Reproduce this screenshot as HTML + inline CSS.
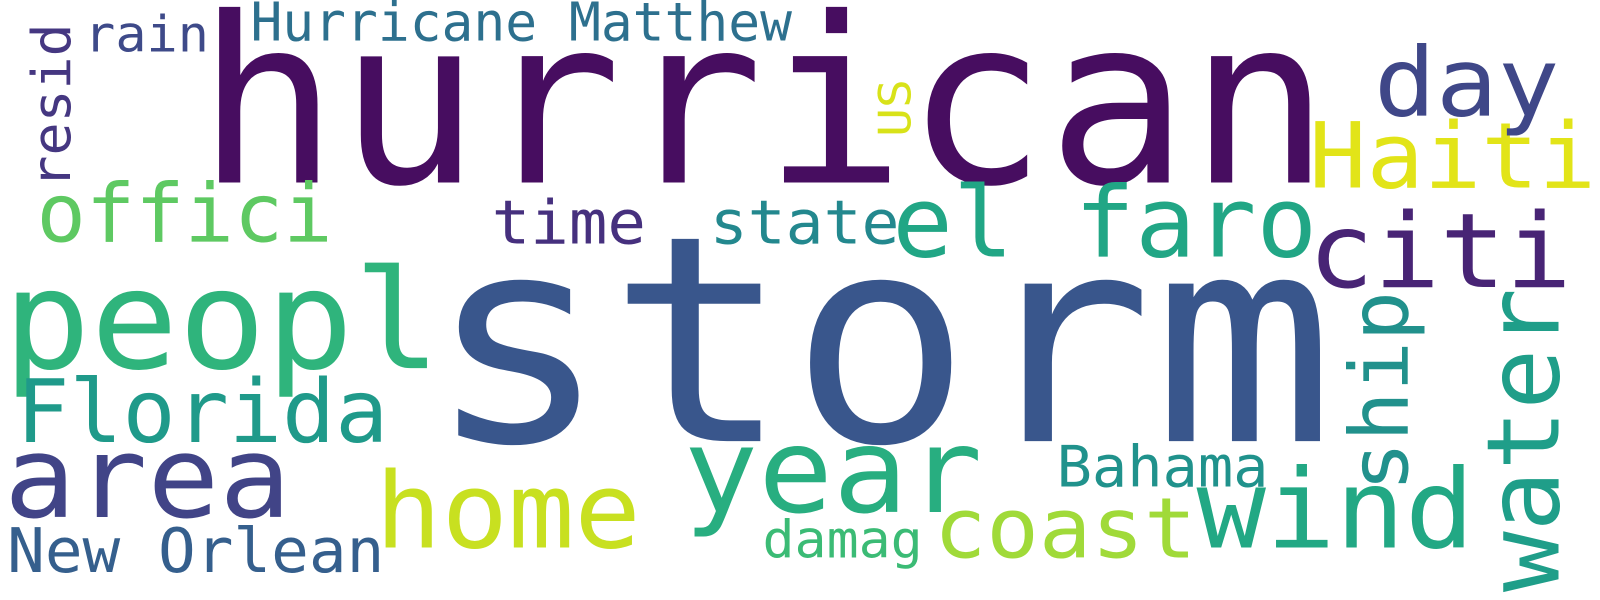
<!DOCTYPE html>
<html><head><meta charset="utf-8"><style>
html,body{margin:0;padding:0;background:#fff;overflow:hidden;width:1600px;height:600px;}
svg{display:block}
text{font-family:"DejaVu Sans Mono","Liberation Mono",monospace;}
</style></head><body>
<svg width="1600" height="600" viewBox="0 0 1600 600">
<rect width="1600" height="600" fill="#fff"/>
<g transform="scale(1.014)">
<text x="194" y="180" font-size="228" fill="#470d60" textLength="1118" lengthAdjust="spacingAndGlyphs">hurrican</text>
<text x="421" y="435" font-size="284" fill="#39568c" textLength="895" lengthAdjust="spacingAndGlyphs">storm</text>
<text x="3" y="363" font-size="136" fill="#2fb47c" textLength="432" lengthAdjust="spacingAndGlyphs">peopl</text>
<text x="880" y="253" font-size="97" fill="#21a685" textLength="419" lengthAdjust="spacingAndGlyphs">el faro</text>
<text x="1290" y="283" font-size="102" fill="#482475" textLength="260" lengthAdjust="spacingAndGlyphs">citi</text>
<text x="1291" y="185" font-size="90" fill="#e2e418" textLength="283" lengthAdjust="spacingAndGlyphs">Haiti</text>
<text x="1355" y="114" font-size="94" fill="#3f4788" textLength="183" lengthAdjust="spacingAndGlyphs">day</text>
<text x="36" y="238" font-size="80" fill="#5ec962" textLength="292" lengthAdjust="spacingAndGlyphs">offici</text>
<text x="16" y="436" font-size="86" fill="#1f9a8a" textLength="367" lengthAdjust="spacingAndGlyphs">Florida</text>
<text x="4" y="510" font-size="112" fill="#414487" textLength="283" lengthAdjust="spacingAndGlyphs">area</text>
<text x="370" y="540" font-size="104" fill="#c8e020" textLength="262" lengthAdjust="spacingAndGlyphs">home</text>
<text x="674" y="505" font-size="116" fill="#28ae80" textLength="295" lengthAdjust="spacingAndGlyphs">year</text>
<text x="921" y="550" font-size="83" fill="#a0da39" textLength="259" lengthAdjust="spacingAndGlyphs">coast</text>
<text x="1180" y="540" font-size="108" fill="#22a884" textLength="274" lengthAdjust="spacingAndGlyphs">wind</text>
<text x="1042" y="480" font-size="56" fill="#20928c" textLength="209" lengthAdjust="spacingAndGlyphs">Bahama</text>
<text x="752" y="550" font-size="51" fill="#3bbb75" textLength="158" lengthAdjust="spacingAndGlyphs">damag</text>
<text x="7" y="564" font-size="61" fill="#355f8d" textLength="372" lengthAdjust="spacingAndGlyphs">New Orlean</text>
<text x="485" y="240" font-size="60" fill="#46307e" textLength="152" lengthAdjust="spacingAndGlyphs">time</text>
<text x="700" y="240" font-size="60" fill="#23888e" textLength="187" lengthAdjust="spacingAndGlyphs">state</text>
<text x="83" y="51" font-size="49" fill="#3e4a89" textLength="123" lengthAdjust="spacingAndGlyphs">rain</text>
<text x="247" y="40" font-size="53" fill="#2d708e" textLength="534" lengthAdjust="spacingAndGlyphs">Hurricane Matthew</text>
<text transform="translate(69,186) rotate(-90)" font-size="53" fill="#453781" textLength="163" lengthAdjust="spacingAndGlyphs">resid</text>
<text transform="translate(898,135) rotate(-90)" font-size="44" fill="#d8e219" textLength="57" lengthAdjust="spacingAndGlyphs">US</text>
<text transform="translate(1388,485) rotate(-90)" font-size="80" fill="#21918c" textLength="198" lengthAdjust="spacingAndGlyphs">ship</text>
<text transform="translate(1537,584) rotate(-90)" font-size="99" fill="#1f9e89" textLength="300" lengthAdjust="spacingAndGlyphs">water</text>
</g>
</svg>
</body></html>
